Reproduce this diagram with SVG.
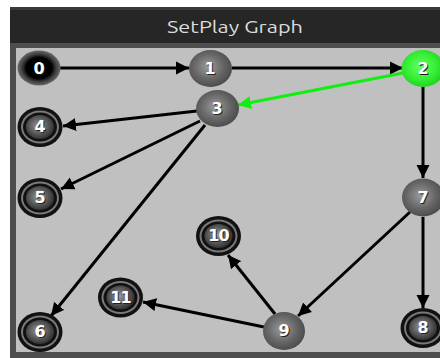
<svg xmlns="http://www.w3.org/2000/svg" width="440" height="358" viewBox="0 0 440 358">
<style>
.lbl{font-family:"DejaVu Sans","Liberation Sans",sans-serif;font-weight:bold;font-size:16px;fill:#ffffff;text-anchor:middle}
.sh{fill:#222222}
.e{stroke:#000000;stroke-width:3;fill:none}
.g{stroke:#11ee11;stroke-width:3;fill:none}
</style>
<defs>
<radialGradient id="sph" cx="0.45" cy="0.45" r="0.6">
<stop offset="0" stop-color="#9c9c9c"/>
<stop offset="0.55" stop-color="#686868"/>
<stop offset="1" stop-color="#474747"/>
</radialGradient>
<radialGradient id="sph2" cx="0.45" cy="0.45" r="0.6">
<stop offset="0" stop-color="#9a9a9a"/>
<stop offset="0.6" stop-color="#555555"/>
<stop offset="1" stop-color="#2a2a2a"/>
</radialGradient>
<radialGradient id="grn" cx="0.45" cy="0.45" r="0.6">
<stop offset="0" stop-color="#66ff66"/>
<stop offset="0.6" stop-color="#33ee33"/>
<stop offset="1" stop-color="#1fcc1f"/>
</radialGradient>
<radialGradient id="blk" cx="0.5" cy="0.5" r="0.5">
<stop offset="0" stop-color="#000000"/>
<stop offset="0.6" stop-color="#000000"/>
<stop offset="0.78" stop-color="#3a3a3a"/>
<stop offset="1" stop-color="#6a6a6a"/>
</radialGradient>
<marker id="ar" markerUnits="userSpaceOnUse" markerWidth="14" markerHeight="14" refX="13" refY="7" orient="auto">
<path d="M0,0.5 L13,7 L0,13.5 z" fill="#000000"/>
</marker>
<marker id="arg" markerUnits="userSpaceOnUse" markerWidth="14" markerHeight="14" refX="13" refY="7" orient="auto">
<path d="M0,0.5 L13,7 L0,13.5 z" fill="#11ee11"/>
</marker>
<g id="fin">
<ellipse rx="22.5" ry="20" fill="#111111"/>
<ellipse rx="19" ry="16.5" fill="#7a7a7a"/>
<ellipse rx="17" ry="14.5" fill="#111111"/>
<ellipse rx="14" ry="12" fill="url(#sph2)"/>
</g>
</defs>
<rect x="0" y="0" width="440" height="358" fill="#ffffff"/>
<rect x="10" y="7" width="430" height="37" fill="#262626"/>
<rect x="10" y="7" width="430" height="3" fill="#3a3a3a"/>
<text x="235" y="33" font-family="Ubuntu,'DejaVu Sans','Liberation Sans',sans-serif" font-size="17" fill="#dcdcdc" text-anchor="middle" textLength="136" lengthAdjust="spacingAndGlyphs">SetPlay Graph</text>
<rect x="10" y="43" width="430" height="315" fill="#4e4e4e"/>
<rect x="16" y="48" width="424" height="304" fill="#c0c0c0"/>
<g id="connectors">
<line class="e" x1="60" y1="68" x2="189" y2="68" marker-end="url(#ar)"/>
<line class="e" x1="232" y1="68" x2="403" y2="68" marker-end="url(#ar)"/>
<line class="g" x1="403" y1="73" x2="238" y2="105" marker-end="url(#arg)"/>
<line class="e" x1="197" y1="111" x2="63" y2="126" marker-end="url(#ar)"/>
<line class="e" x1="200" y1="121" x2="61" y2="189" marker-end="url(#ar)"/>
<line class="e" x1="205" y1="125" x2="51" y2="316" marker-end="url(#ar)"/>
<line class="e" x1="423" y1="87" x2="423" y2="178" marker-end="url(#ar)"/>
<line class="e" x1="410" y1="212" x2="298" y2="316" marker-end="url(#ar)"/>
<line class="e" x1="423" y1="217" x2="423" y2="308" marker-end="url(#ar)"/>
<line class="e" x1="275" y1="314" x2="228" y2="255" marker-end="url(#ar)"/>
<line class="e" x1="264" y1="327" x2="143" y2="302" marker-end="url(#ar)"/>
</g>
<g id="n0"><ellipse cx="39" cy="68" rx="21.5" ry="17.5" fill="url(#blk)"/><text class="lbl sh" x="40" y="74.5">0</text><text class="lbl" x="39" y="73.5">0</text></g>
<g id="n1"><ellipse cx="210.5" cy="68.5" rx="21.5" ry="18.5" fill="url(#sph)"/><text class="lbl sh" x="211" y="74.5">1</text><text class="lbl" x="210" y="73.5">1</text></g>
<g id="n2"><ellipse cx="423" cy="68.5" rx="21.5" ry="18.5" fill="url(#grn)"/><text class="lbl sh" x="424" y="74.5">2</text><text class="lbl" x="423" y="73.5">2</text></g>
<g id="n3"><ellipse cx="217.5" cy="108.5" rx="21.5" ry="18.5" fill="url(#sph)"/><text class="lbl sh" x="218" y="114.5">3</text><text class="lbl" x="217" y="113.5">3</text></g>
<g id="n4"><use href="#fin" x="40" y="127"/><text class="lbl sh" x="41" y="133">4</text><text class="lbl" x="40" y="132">4</text></g>
<g id="n5"><use href="#fin" x="40" y="198"/><text class="lbl sh" x="41" y="204">5</text><text class="lbl" x="40" y="203">5</text></g>
<g id="n6"><use href="#fin" x="40" y="332"/><text class="lbl sh" x="41" y="338">6</text><text class="lbl" x="40" y="337">6</text></g>
<g id="n7"><ellipse cx="423" cy="197.5" rx="21" ry="19" fill="url(#sph)"/><text class="lbl sh" x="424" y="203.5">7</text><text class="lbl" x="423" y="202.5">7</text></g>
<g id="n8"><use href="#fin" x="423" y="328"/><text class="lbl sh" x="424" y="334">8</text><text class="lbl" x="423" y="333">8</text></g>
<g id="n9"><ellipse cx="284" cy="331" rx="21" ry="19" fill="url(#sph)"/><text class="lbl sh" x="285" y="337">9</text><text class="lbl" x="284" y="336">9</text></g>
<g id="n10"><use href="#fin" x="218.5" y="236"/><text class="lbl sh" x="219.5" y="242" letter-spacing="-1">10</text><text class="lbl" x="218.5" y="241" letter-spacing="-1">10</text></g>
<g id="n11"><use href="#fin" x="120.5" y="297.5"/><text class="lbl sh" x="121.5" y="303.5" letter-spacing="-1">11</text><text class="lbl" x="120.5" y="302.5" letter-spacing="-1">11</text></g>
</svg>
